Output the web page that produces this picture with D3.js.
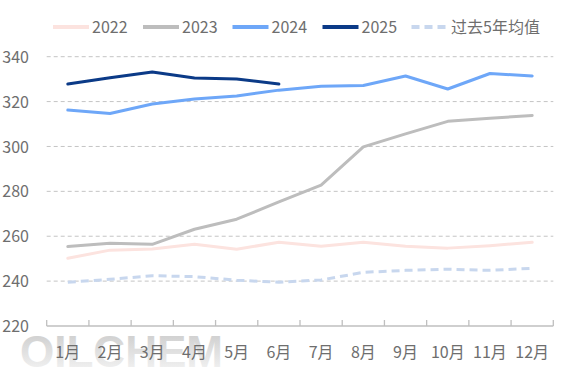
<!DOCTYPE html>
<html>
<head>
<meta charset="utf-8">
<script src="https://cdn.jsdelivr.net/npm/d3@7"></script>
<style>
  html, body { margin: 0; padding: 0; background: #fff; }
  svg { display: block; }
</style>
</head>
<body>
<svg id="chart" width="567" height="378"></svg>
<script>
const months = ["1月","2月","3月","4月","5月","6月","7月","8月","9月","10月","11月","12月"];
const yTicks = [220, 240, 260, 280, 300, 320, 340];
const s2022 = [250.2, 253.8, 254.3, 256.4, 254.2, 257.3, 255.5, 257.3, 255.5, 254.7, 255.8, 257.3];
const s2023 = [255.4, 256.9, 256.4, 263.1, 267.6, 275.3, 282.8, 299.8, 305.6, 311.2, 312.6, 313.8];
const s2024 = [316.2, 314.7, 318.9, 321.2, 322.5, 325.1, 326.8, 327.2, 331.4, 325.6, 332.5, 331.4];
const s2025 = [327.8, 330.6, 333.2, 330.5, 330.1, 327.8];
const avg5 = [239.5, 240.8, 242.4, 242.0, 240.4, 239.5, 240.5, 243.9, 244.8, 245.3, 244.8, 245.7];
const seriesNames = ["2022", "2023", "2024", "2025", "过去5年均值"];

const seriesList = [
  { name: seriesNames[0], values: s2022, color: "#fce3df", dash: null },
  { name: seriesNames[1], values: s2023, color: "#bdbdbd", dash: null },
  { name: seriesNames[2], values: s2024, color: "#6ea7f8", dash: null },
  { name: seriesNames[3], values: s2025, color: "#0b3a87", dash: null },
  { name: seriesNames[4], values: avg5, color: "#c8d7ee", dash: "8,5" }
];

const svg = d3.select("#chart");
const font = "'Noto Sans CJK SC', 'Noto Sans', sans-serif";
const textColor = "#6e6e6e";

const x = d3.scaleBand().domain(months).range([46.7, 553.3]);
const y = d3.scaleLinear().domain([220, 340]).range([326, 56.7]);

// watermark
const defs = svg.append("defs");
const grad = defs.append("linearGradient").attr("id", "wm").attr("x1", 0).attr("y1", 0).attr("x2", 0).attr("y2", 1);
grad.append("stop").attr("offset", "0%").attr("stop-color", "#c9c9c9");
grad.append("stop").attr("offset", "100%").attr("stop-color", "#f7f7f7");
svg.append("text")
  .attr("x", 20).attr("y", 367)
  .attr("textLength", 203).attr("lengthAdjust", "spacingAndGlyphs")
  .attr("font-family", "'Liberation Sans', Arial, sans-serif")
  .attr("font-weight", "bold")
  .attr("font-size", 44)
  .attr("fill", "url(#wm)")
  .text("OILCHEM");

// gridlines
svg.append("g").selectAll("line")
  .data(yTicks.filter(d => d > 220))
  .join("line")
  .attr("x1", 46.7).attr("x2", 553.3)
  .attr("y1", d => y(d)).attr("y2", d => y(d))
  .attr("stroke", "#c4c4c4").attr("stroke-width", 1)
  .attr("stroke-dasharray", "4,3");

// y axis labels
const yAxis = d3.axisLeft(y).tickValues(yTicks).tickSize(0).tickPadding(0);
const gy = svg.append("g").attr("transform", "translate(29,0)").call(yAxis);
gy.select(".domain").remove();
gy.selectAll("text")
  .attr("font-family", font).attr("font-size", 16)
  .attr("fill", textColor).attr("dy", "0.35em");

// x axis
const xAxis = d3.axisBottom(x).tickSize(0).tickPadding(0);
const gx = svg.append("g").attr("transform", "translate(0,326)").call(xAxis);
gx.select(".domain").attr("stroke", "#bfbfbf").attr("stroke-width", 1.3).attr("d", "M46.7,0H553.3");
gx.selectAll("text")
  .attr("font-family", font).attr("font-size", 16)
  .attr("fill", textColor).attr("y", 26).attr("dy", "0.35em");
// boundary ticks (pointing up)
const bounds = months.map(m => x(m)).concat([x.range()[1]]);
svg.append("g").selectAll("line")
  .data(bounds)
  .join("line")
  .attr("x1", d => d).attr("x2", d => d)
  .attr("y1", 320).attr("y2", 326)
  .attr("stroke", "#bfbfbf").attr("stroke-width", 1.3);

// lines
const line = d3.line()
  .x((d, i) => x(months[i]) + x.bandwidth() / 2)
  .y(d => y(d));

const drawOrder = [4, 0, 1, 2, 3];
drawOrder.forEach(k => {
  const s = seriesList[k];
  svg.append("path")
    .datum(s.values)
    .attr("d", line)
    .attr("fill", "none")
    .attr("stroke", s.color)
    .attr("stroke-width", 3)
    .attr("stroke-linejoin", "round")
    .attr("stroke-linecap", k === 4 ? "butt" : "round")
    .attr("stroke-dasharray", s.dash);
});

// legend
const legendPos = [
  { lx: 53, tx: 92 },
  { lx: 143, tx: 182 },
  { lx: 232.5, tx: 271.5 },
  { lx: 322.5, tx: 361.5 },
  { lx: 411.5, tx: 451 }
];
const lg = svg.append("g");
seriesList.forEach((s, i) => {
  const p = legendPos[i];
  lg.append("line")
    .attr("x1", p.lx).attr("x2", p.lx + 36)
    .attr("y1", 27).attr("y2", 27)
    .attr("stroke", s.color).attr("stroke-width", 4)
    .attr("stroke-dasharray", s.dash ? "8,5" : null);
  lg.append("text")
    .attr("x", p.tx).attr("y", 27).attr("dy", "0.35em")
    .attr("font-family", font).attr("font-size", 16)
    .attr("fill", textColor)
    .text(s.name);
});
</script>
</body>
</html>
